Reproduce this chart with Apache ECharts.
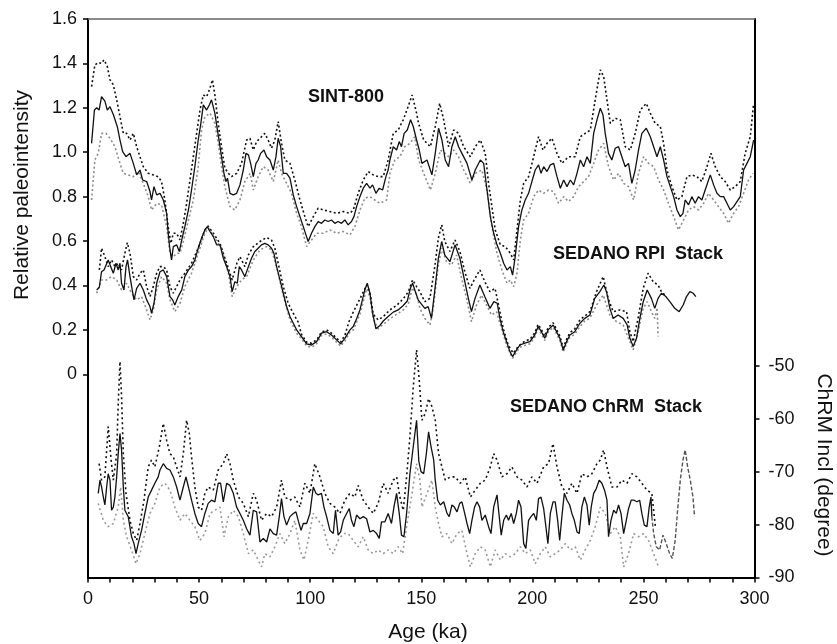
<!DOCTYPE html>
<html>
<head>
<meta charset="utf-8">
<title>SINT-800 / SEDANO stacks</title>
<script src="https://cdn.jsdelivr.net/npm/echarts@6.0.0/dist/echarts.min.js"></script>
<style>
html,body{margin:0;padding:0;background:#fff;}
#chart{width:837px;height:644px;}
</style>
</head>
<body>
<div id="chart"></div>
<script>
// age (ka), relative paleointensity
var sintMean = [[1.6,1.04],[2.9,1.19],[3.9,1.2],[5,1.19],[6.1,1.25],[7.6,1.23],[8.7,1.19],[9.9,1.205],[11.4,1.17],[13.2,1.115],[14.4,1.055],[15.6,1.003],[17.1,0.98],[18.9,0.995],[20.4,0.95],[21.9,0.898],[23.4,0.92],[24.6,0.875],[26.4,0.868],[27.9,0.823],[28.6,0.785],[29.7,0.845],[30.9,0.808],[32.4,0.815],[33.9,0.785],[35.4,0.725],[36.1,0.635],[36.9,0.56],[37.6,0.515],[38.4,0.575],[39.9,0.583],[41.1,0.553],[42.2,0.605],[43.6,0.665],[45.2,0.74],[46.6,0.83],[48.1,0.935],[49.6,1.055],[50.8,1.13],[51.9,1.213],[53.4,1.19],[54.6,1.213],[55.6,1.236],[57.1,1.176],[58.6,1.078],[60.1,0.98],[61.2,0.905],[62.1,0.868],[62.8,0.883],[63.9,0.815],[65.4,0.808],[66.9,0.815],[68.4,0.853],[69.9,0.92],[71.1,0.995],[72.2,0.988],[73.2,0.95],[74.4,0.89],[75.6,0.95],[76.6,0.965],[77.7,0.995],[79.2,1.01],[80.4,0.98],[81.9,0.965],[83.4,0.92],[84.6,0.98],[85.6,1.063],[86.7,1.025],[87.9,0.905],[89.4,0.905],[90.9,0.883],[92.4,0.808],[93.9,0.755],[95.4,0.71],[96.9,0.665],[98.1,0.628],[99.1,0.598],[100.6,0.635],[102.1,0.665],[103.6,0.688],[105.1,0.68],[106.6,0.695],[108.1,0.688],[109.6,0.695],[111.1,0.68],[112.6,0.688],[114.1,0.68],[115.6,0.695],[117.1,0.673],[118.6,0.688],[119.7,0.71],[120.9,0.755],[122.4,0.8],[123.9,0.838],[125.4,0.86],[126.9,0.838],[128.1,0.853],[129.6,0.815],[131.1,0.838],[132.6,0.83],[134.1,0.89],[135.1,0.92],[135.9,0.965],[137.4,1.025],[138.9,1.01],[140.1,1.048],[141.1,1.025],[142.3,1.085],[143.7,1.1],[145.2,1.146],[146.4,1.116],[147.9,1.055],[149.1,1.01],[150.3,0.95],[152.6,0.965],[154.8,0.898],[156.3,0.995],[157.8,1.108],[159.3,1.055],[160.8,0.965],[162.3,0.935],[163.8,1.025],[165.3,1.07],[166.8,1.025],[168.3,0.995],[170.6,0.95],[172.8,0.875],[174.3,0.92],[176.6,0.965],[178.1,0.95],[179.6,0.83],[181.1,0.71],[182.6,0.635],[184.1,0.583],[185.6,0.545],[187.1,0.5],[188.6,0.47],[190.1,0.485],[191.1,0.447],[192.3,0.53],[193.8,0.665],[195.3,0.74],[196.8,0.785],[198.3,0.815],[199.8,0.868],[201.3,0.92],[202.8,0.943],[203.9,0.905],[205.1,0.935],[206.6,0.913],[208.1,0.943],[209.6,0.95],[211.1,0.89],[212.6,0.838],[214.1,0.875],[215.6,0.845],[217.1,0.875],[218.6,0.853],[220.1,0.905],[221.6,0.965],[223.1,0.935],[224.6,0.98],[226.1,0.95],[227.6,1.085],[229.1,1.146],[230.6,1.198],[231.8,1.168],[232.8,1.085],[234.3,0.995],[235.8,0.965],[237.3,1.018],[238.8,1.025],[240.3,0.98],[241.8,0.935],[243.3,0.95],[244.8,0.86],[246.3,0.92],[247.8,1.01],[249.3,1.085],[251.3,1.108],[253.1,1.07],[254.6,1.025],[256.1,0.98],[257.6,1.025],[259.1,0.965],[260.6,0.89],[262.1,0.845],[263.6,0.8],[265.1,0.74],[266.6,0.71],[267.8,0.725],[268.8,0.785],[270.3,0.763],[271.8,0.8],[273.3,0.77],[274.8,0.8],[276.3,0.785],[277.8,0.83],[280.1,0.898],[281.6,0.853],[283.1,0.815],[284.6,0.8],[286.1,0.8],[287.6,0.77],[289.1,0.74],[290.6,0.755],[292.1,0.778],[293.6,0.8],[295.1,0.92],[296.6,0.95],[298.1,0.98],[299.6,1.055]];

var sintUpper = [[1.6,1.296],[3.1,1.393],[4.6,1.404],[6.1,1.4],[7.2,1.416],[8.7,1.386],[9.9,1.326],[11.4,1.303],[12.9,1.236],[14.4,1.16],[15.9,1.085],[17.4,1.085],[18.9,1.055],[20.4,1.085],[21.9,1.025],[23.4,0.98],[24.9,0.935],[27.1,0.905],[29.4,0.898],[31.6,0.89],[33.1,0.868],[34.6,0.785],[36.1,0.665],[37.3,0.59],[38.4,0.635],[39.9,0.635],[41.4,0.605],[42.9,0.68],[44.4,0.77],[45.9,0.875],[47.4,0.98],[48.9,1.085],[50.4,1.19],[51.9,1.258],[53.4,1.25],[54.9,1.288],[56,1.326],[57.1,1.258],[58.6,1.13],[60.1,1.025],[61.6,0.928],[63.2,0.905],[64.6,0.89],[66.9,0.905],[69.1,0.95],[71.4,1.055],[72.9,1.063],[74.4,1.01],[75.9,1.048],[78.1,1.07],[79.6,1.085],[81.1,1.055],[82.6,1.018],[84.1,1.055],[85.6,1.138],[87.1,1.04],[88.6,0.965],[90.9,0.95],[93.1,0.875],[95.4,0.785],[97.6,0.71],[99.1,0.665],[101.4,0.71],[103.6,0.748],[105.9,0.74],[108.9,0.733],[111.9,0.725],[114.9,0.733],[117.9,0.725],[119.4,0.74],[121.6,0.815],[123.9,0.875],[126.1,0.913],[128.4,0.898],[130.6,0.89],[132.9,0.89],[135.1,0.965],[137.4,1.085],[139.6,1.1],[141.9,1.146],[144.1,1.206],[145.9,1.258],[147.9,1.176],[148.8,1.13],[151.1,1.055],[154.1,1.025],[156.3,1.116],[158.3,1.22],[160.1,1.146],[162.3,1.025],[164.6,1.1],[166.8,1.085],[169.1,1.025],[172.1,0.98],[174.3,1.025],[176.6,1.055],[178.8,0.995],[180.3,0.86],[181.8,0.755],[183.3,0.65],[185.6,0.583],[187.8,0.575],[190.1,0.545],[191.6,0.515],[193.1,0.65],[194.6,0.785],[196.1,0.86],[198.3,0.89],[200.6,0.98],[202.8,1.07],[204.8,1.01],[206.6,1.04],[208.8,1.063],[211.1,0.995],[213.3,0.95],[216.3,0.98],[219.3,0.98],[221.6,1.07],[223.8,1.085],[226.1,1.1],[228.3,1.236],[230.6,1.371],[232.1,1.341],[233.6,1.236],[235.1,1.13],[237.3,1.153],[239.6,1.146],[241.8,1.025],[244.1,1.01],[246.3,1.085],[248.6,1.19],[251.3,1.22],[253.1,1.176],[255.3,1.13],[257.6,1.116],[259.1,1.04],[260.6,0.92],[262.8,0.845],[265.1,0.785],[267.3,0.8],[269.6,0.89],[271.8,0.898],[274.1,0.89],[276.3,0.868],[278.6,0.935],[280.4,0.995],[282.3,0.935],[284.6,0.89],[286.8,0.868],[289.1,0.83],[291.3,0.845],[293.6,0.868],[295.8,0.995],[298.1,1.07],[299.6,1.22]];

var sintLower = [[1.6,0.785],[3.1,0.965],[4.6,0.995],[6.1,1.085],[8.1,1.085],[9.9,1.063],[12.1,1.025],[14.4,0.95],[15.9,0.905],[18.1,0.898],[20.4,0.89],[22.6,0.913],[24.9,0.86],[27.1,0.8],[28.6,0.74],[30.9,0.77],[33.1,0.763],[35.4,0.665],[36.9,0.545],[38.4,0.53],[39.9,0.545],[41.4,0.545],[42.9,0.598],[45.2,0.695],[47.4,0.785],[49.6,0.935],[51.1,1.1],[52.6,1.16],[54.9,1.176],[57.1,1.13],[58.6,1.04],[60.1,0.935],[61.6,0.845],[63.9,0.755],[66.1,0.74],[68.4,0.785],[70.6,0.868],[73,0.905],[74.4,0.83],[76.6,0.89],[78.9,0.935],[81.1,0.92],[83.4,0.868],[85.6,0.965],[87.1,0.905],[89.4,0.86],[91.6,0.815],[93.9,0.725],[96.1,0.665],[98.4,0.575],[100.6,0.605],[102.9,0.635],[105.9,0.635],[108.9,0.65],[111.9,0.635],[114.9,0.643],[117.9,0.628],[120.1,0.665],[122.4,0.74],[124.6,0.793],[126.9,0.8],[129.1,0.785],[131.4,0.77],[134.4,0.785],[135.9,0.905],[138.1,0.965],[140.4,0.98],[142.6,1.025],[144.9,1.04],[147.1,1.07],[148.8,0.965],[151.1,0.905],[154.1,0.83],[156.3,0.905],[158.6,1.01],[160.8,0.995],[162.3,0.98],[164.6,1.01],[166.8,0.98],[169.1,0.92],[172.1,0.86],[174.3,0.905],[177.3,0.92],[179.6,0.83],[181.8,0.665],[184.1,0.545],[186.3,0.47],[188.6,0.41],[190.1,0.425],[191.6,0.395],[193.1,0.455],[194.6,0.605],[196.1,0.695],[198.3,0.725],[200.6,0.8],[202.8,0.83],[205.1,0.815],[207.3,0.83],[209.6,0.823],[211.8,0.77],[214.1,0.8],[216.3,0.778],[218.6,0.8],[220.8,0.845],[223.1,0.868],[225.3,0.89],[227.6,0.95],[229.8,1.01],[232.1,1.04],[234.3,0.935],[236.6,0.875],[238.8,0.905],[241.1,0.86],[243.3,0.845],[245.6,0.785],[247.8,0.905],[250.1,0.98],[252.3,0.95],[254.6,0.935],[256.8,0.875],[259.1,0.83],[261.3,0.77],[263.6,0.71],[265.8,0.65],[268.1,0.695],[270.3,0.74],[272.6,0.755],[274.8,0.74],[277.1,0.77],[279.3,0.815],[281.6,0.785],[283.8,0.755],[286.1,0.725],[288.3,0.68],[290.6,0.725],[292.8,0.755],[295.1,0.815],[297.3,0.875],[299.3,0.905]];

var rpiMean = [[3.9,0.38],[5.1,0.392],[6.1,0.462],[7.2,0.47],[8.1,0.462],[9.1,0.515],[10.2,0.485],[11.4,0.455],[12.6,0.5],[13.6,0.47],[14.4,0.5],[15.1,0.41],[16.2,0.38],[17.1,0.485],[17.8,0.515],[18.9,0.44],[19.9,0.38],[20.7,0.335],[21.9,0.387],[23.4,0.41],[24.9,0.38],[26.4,0.335],[27.9,0.305],[28.6,0.275],[29.7,0.32],[30.9,0.41],[32.4,0.462],[33.9,0.47],[35.4,0.44],[36.9,0.35],[38.1,0.335],[39.1,0.312],[40.6,0.35],[42.2,0.38],[43.6,0.44],[45.2,0.47],[46.6,0.485],[48.1,0.515],[49.6,0.568],[51.1,0.613],[52.6,0.65],[53.7,0.665],[54.9,0.643],[56.4,0.62],[57.9,0.583],[59.4,0.583],[60.9,0.523],[62.4,0.485],[63.9,0.44],[64.9,0.372],[66.1,0.417],[67.2,0.41],[68.1,0.485],[69.1,0.47],[70.6,0.44],[72.2,0.485],[73.6,0.523],[75.1,0.553],[76.6,0.568],[78.1,0.583],[79.6,0.59],[81.1,0.583],[82.6,0.568],[83.7,0.545],[84.9,0.485],[86.4,0.425],[87.9,0.365],[89.4,0.305],[90.9,0.26],[92.4,0.23],[93.9,0.2],[96.1,0.17],[98.4,0.137],[100.6,0.132],[102.9,0.147],[105.1,0.185],[107.4,0.192],[109.6,0.177],[111.9,0.155],[113.7,0.137],[115.6,0.162],[117.9,0.2],[119.4,0.215],[120.9,0.25],[122.4,0.29],[124.6,0.38],[125.7,0.41],[126.9,0.365],[128.1,0.275],[129.6,0.205],[131.4,0.22],[132.9,0.24],[135.1,0.26],[137.4,0.28],[139.6,0.29],[141.9,0.31],[143.7,0.33],[145.2,0.39],[146.1,0.41],[147.1,0.38],[148.6,0.335],[149.4,0.327],[151.6,0.297],[153.1,0.305],[154.6,0.252],[156.2,0.387],[157.7,0.522],[159.2,0.598],[160.6,0.537],[162.9,0.507],[165.2,0.583],[167.4,0.522],[169.6,0.417],[171.2,0.342],[172.6,0.282],[174.2,0.342],[176.4,0.402],[178.6,0.35],[180.9,0.297],[182.7,0.327],[184.2,0.32],[185.4,0.252],[186.9,0.192],[188.4,0.147],[189.9,0.102],[191.1,0.08],[192.9,0.11],[194.4,0.132],[196.6,0.14],[198.9,0.147],[201.1,0.177],[202.6,0.215],[204.1,0.192],[205.6,0.162],[207.1,0.2],[209.4,0.222],[210.9,0.192],[212.4,0.162],[213.9,0.11],[215.4,0.147],[216.9,0.177],[219.1,0.192],[221.4,0.23],[223.6,0.252],[225.9,0.267],[228.1,0.342],[230.4,0.372],[232.2,0.402],[233.4,0.372],[234.9,0.297],[236.4,0.252],[238.6,0.267],[240.9,0.252],[242.7,0.222],[243.9,0.162],[245.4,0.125],[246.9,0.162],[248.4,0.252],[249.9,0.327],[251.7,0.38],[253.6,0.342],[255.1,0.297],[256.6,0.342],[258.1,0.365],[260.1,0.35],[261.9,0.327],[264.1,0.297],[266.1,0.282],[267.9,0.312],[269.4,0.35],[270.9,0.372],[272.4,0.365],[273.6,0.35]];

var rpiUpper = [[5.1,0.47],[6.1,0.568],[7.6,0.53],[9.1,0.485],[10.6,0.515],[12.1,0.485],[13.6,0.5],[15.1,0.47],[16.6,0.545],[17.7,0.593],[18.9,0.545],[20.4,0.44],[21.9,0.425],[23.4,0.455],[24.9,0.47],[26.4,0.395],[27.9,0.35],[29.4,0.395],[30.9,0.455],[32.4,0.485],[33.9,0.485],[35.4,0.47],[36.9,0.395],[38.4,0.365],[39.9,0.395],[41.4,0.425],[43.6,0.455],[46.6,0.5],[49.6,0.568],[52.6,0.65],[54.1,0.668],[56.4,0.635],[59.4,0.59],[62.4,0.5],[64.9,0.425],[67,0.5],[68.4,0.53],[70.6,0.485],[72.2,0.538],[74.4,0.575],[77.4,0.598],[80.4,0.616],[82.6,0.605],[84.1,0.568],[85.6,0.5],[87.9,0.395],[90.1,0.32],[92.4,0.275],[94.6,0.235],[96.1,0.18],[98.4,0.145],[100.6,0.14],[102.9,0.155],[105.1,0.19],[107.4,0.2],[109.6,0.185],[111.9,0.163],[113.7,0.145],[115.6,0.175],[117.4,0.235],[119.4,0.28],[122.4,0.34],[125.4,0.402],[126.9,0.37],[128.4,0.27],[130.6,0.245],[132.9,0.26],[135.9,0.29],[138.9,0.31],[141.9,0.34],[144.1,0.37],[146.1,0.425],[147.9,0.395],[149.4,0.372],[151.6,0.327],[153.9,0.342],[156.2,0.492],[157.7,0.613],[159.2,0.673],[160.6,0.598],[162.9,0.553],[165.2,0.605],[167.4,0.553],[169.6,0.462],[171.9,0.387],[174.2,0.432],[176.4,0.47],[178.6,0.417],[180.9,0.372],[183.2,0.387],[185.1,0.297],[186.9,0.207],[189.1,0.132],[191.4,0.095],[193.6,0.125],[196.6,0.15],[198.9,0.157],[201.1,0.187],[202.6,0.225],[204.1,0.202],[205.6,0.172],[207.1,0.21],[209.4,0.232],[210.9,0.202],[212.4,0.172],[213.9,0.12],[215.4,0.157],[216.9,0.187],[219.1,0.205],[221.4,0.245],[223.6,0.262],[225.9,0.282],[228.9,0.372],[231.9,0.44],[234.1,0.342],[236.4,0.282],[239.4,0.29],[242.4,0.282],[243.9,0.192],[245.4,0.147],[247.6,0.252],[249.9,0.387],[252.1,0.455],[254.4,0.417],[256.6,0.402],[258.1,0.372],[260.4,0.35]];

var rpiLower = [[3.9,0.365],[6.1,0.425],[8.4,0.425],[10.6,0.44],[12.9,0.425],[15.1,0.38],[17.4,0.41],[19.6,0.365],[21.9,0.335],[24.1,0.35],[26.4,0.29],[27.9,0.245],[29.4,0.29],[30.9,0.38],[33.1,0.44],[35.4,0.41],[36.9,0.335],[39.1,0.282],[41.4,0.32],[43.6,0.395],[46.6,0.455],[49.6,0.545],[52.6,0.635],[54.1,0.658],[57.1,0.613],[60.1,0.568],[63.2,0.455],[64.9,0.35],[67,0.395],[69.1,0.425],[71.4,0.44],[74.4,0.515],[77.4,0.56],[80.4,0.575],[82.6,0.56],[84.9,0.485],[87.9,0.355],[90.9,0.245],[93.9,0.185],[96.1,0.16],[98.4,0.127],[100.6,0.122],[102.9,0.137],[105.1,0.175],[107.4,0.182],[109.6,0.167],[111.9,0.145],[113.7,0.127],[115.6,0.15],[117.9,0.19],[119.4,0.2],[122.4,0.27],[125.4,0.385],[126.9,0.35],[128.4,0.25],[130.6,0.205],[132.9,0.225],[135.9,0.25],[138.9,0.27],[141.9,0.29],[144.1,0.315],[146.1,0.39],[147.9,0.36],[149.4,0.297],[151.6,0.252],[153.9,0.222],[155.4,0.297],[157.7,0.492],[159.2,0.568],[161.4,0.507],[163.6,0.492],[165.9,0.537],[168.2,0.432],[170.4,0.342],[172.6,0.237],[174.9,0.312],[177.1,0.357],[179.4,0.312],[181.6,0.267],[183.9,0.282],[186.1,0.207],[188.4,0.132],[191.1,0.072],[192.9,0.1],[194.4,0.122],[196.6,0.13],[198.9,0.137],[201.1,0.167],[202.6,0.205],[204.1,0.182],[205.6,0.152],[207.1,0.19],[209.4,0.212],[210.9,0.182],[212.4,0.152],[213.9,0.1],[215.4,0.137],[216.9,0.167],[219.1,0.18],[221.4,0.215],[223.6,0.24],[225.9,0.252],[228.9,0.312],[231.9,0.357],[234.9,0.267],[237.9,0.237],[240.9,0.222],[243.9,0.147],[245.4,0.11],[247.6,0.192],[249.9,0.297],[251.7,0.327],[253.6,0.282],[255.1,0.252],[256.2,0.3],[256.6,0.17]];

// age (ka), ChRM inclination (degree)
var chrmMean = [[4.6,-74.1],[5.4,-71.6],[6.1,-72.9],[6.9,-74.8],[7.6,-76.3],[8.4,-72.9],[9.1,-70.4],[9.9,-71.6],[10.6,-77.3],[11.4,-76.7],[12.1,-74.8],[12.9,-71],[13.6,-66.6],[14.4,-62.8],[15.1,-65.9],[15.9,-72.9],[16.6,-77.3],[18.1,-78.5],[19.6,-82.3],[20.7,-83.6],[21.6,-85.5],[22.6,-83.6],[24.1,-81.1],[25.6,-77.9],[27.1,-74.8],[28.6,-73.5],[30.1,-72.2],[31.6,-71],[32.4,-69.7],[33.9,-68.5],[35.4,-69.4],[36.9,-69.7],[38.4,-71],[39.9,-72.9],[41.4,-75.4],[42.9,-72.9],[44.1,-71],[45.2,-72.9],[46.6,-75.4],[48.1,-77.9],[49.6,-79.8],[51.1,-80.4],[52.6,-77.9],[54.1,-76],[55.6,-75.4],[57.1,-75.7],[58.6,-72.2],[59.7,-72.2],[60.9,-75.7],[62.4,-72.2],[63.9,-72.6],[65.4,-74.1],[66.9,-76.7],[68.4,-77.9],[69.9,-79.2],[71.4,-80.8],[72.9,-82],[74.4,-77.3],[75.9,-77.6],[77.4,-83.3],[78.9,-82.6],[80.4,-83.3],[81.9,-80.8],[83.4,-81.7],[84.9,-82],[86.1,-78.5],[87.1,-75.1],[88.2,-78.5],[89.4,-80.1],[90.9,-78.5],[92.4,-77.9],[93.6,-77.6],[94.6,-79.2],[95.9,-81.1],[96.9,-79.8],[98.4,-79.8],[99.9,-77.9],[101.4,-72.9],[102.6,-74.1],[103.6,-74.4],[105.1,-74.1],[106.2,-76.7],[107.4,-78.5],[108.9,-81.1],[110.4,-81.7],[111.4,-77.3],[112.6,-82],[113.7,-81.4],[114.9,-79.2],[116.4,-77.9],[117.6,-77],[118.6,-79.2],[119.7,-80.4],[120.9,-78.2],[122.4,-78.9],[123.9,-78.5],[125.4,-78.9],[126.9,-81.4],[128.4,-81.1],[129.9,-81.7],[131.1,-82.6],[132.1,-79.5],[133.6,-79.5],[135.1,-77.9],[136.6,-79.8],[137.7,-76.7],[138.9,-74.1],[140.1,-77.9],[141.1,-82],[142.2,-82.3],[143.4,-77.9],[144.9,-70.4],[146.4,-65.3],[147.9,-60.3],[148.9,-68],[149.9,-70],[151.1,-70.4],[152.3,-66.6],[153.3,-62.5],[154.4,-65.3],[155.6,-67.8],[156.3,-71.6],[157.4,-75.4],[158.6,-76.3],[160.1,-75.7],[161.6,-77.9],[162.6,-78.5],[163.8,-76.3],[164.9,-76.7],[166.1,-77.6],[167.3,-76],[168.3,-75.7],[169.4,-77.6],[170.6,-79.8],[171.8,-81.7],[172.8,-79.2],[174,-76.7],[175.1,-75.7],[176.3,-76.7],[177.3,-79.2],[178.8,-78.2],[180.3,-80.4],[181.4,-81.7],[182.6,-76.7],[184.1,-74.4],[185.1,-78.5],[186,-82],[187.1,-79.2],[188.3,-78.2],[189.3,-79.2],[190.5,-77.9],[191.6,-79.8],[192.8,-77.9],[193.8,-75.4],[194.9,-76.7],[196.1,-83.6],[197.1,-84.5],[198.3,-79.2],[199.4,-78.5],[200.6,-77.9],[201.8,-79.2],[202.8,-75.1],[203.9,-74.8],[205.1,-77],[206.1,-80.4],[207,-83.6],[208.1,-77.9],[209.3,-75.7],[210.3,-75.7],[211.4,-79.2],[212.3,-83],[213.3,-78.5],[214.4,-74.1],[215.6,-75.4],[216.8,-76.3],[217.8,-77.9],[218.9,-79.2],[220.1,-81.4],[221.1,-81.7],[222.3,-76.7],[223.4,-74.8],[224.6,-76.3],[225.6,-80.1],[226.5,-76.7],[227.6,-74.1],[228.8,-73.2],[230.1,-71.6],[231.3,-72.2],[232.5,-73.5],[233.6,-75.4],[234.3,-82.3],[235.4,-79.2],[236.6,-77.3],[237.8,-77.9],[238.8,-76.3],[239.9,-77.9],[241.1,-81.7],[242.3,-79.2],[243.3,-77],[244.5,-75.4],[245.8,-75.4],[247.1,-75.7],[248.3,-75.4],[249.3,-77.9],[250.4,-80.1],[251.6,-80.4],[252.6,-76.7],[253.4,-74.8],[253.8,-78.5]];

var chrmTail = [[253.8,-78.5],[254.6,-81.7],[255.8,-84.2],[257.3,-84.8],[258.8,-82],[260.3,-83.6],[261.8,-85.5],[263,-86.4],[264.3,-83],[265.5,-76.7],[266.6,-71.6],[267.8,-67.8],[268.8,-65.9],[269.9,-69.1],[271.1,-71.6],[272.3,-74.8],[273,-78.5]];

var chrmUpper = [[5,-68.5],[6.1,-71.6],[7.6,-71],[9.1,-61.5],[10.4,-67.8],[11.4,-71.6],[12.9,-66.6],[13.6,-57.1],[14.4,-49.2],[15.1,-55.8],[15.9,-66.6],[17.1,-74.1],[18.9,-79.2],[20.4,-81.7],[21.9,-83],[23.4,-79.8],[25.2,-75.4],[27.1,-69.1],[28.6,-67.8],[30.1,-69.1],[32.1,-65.3],[33.9,-60.9],[35.4,-64.1],[36.9,-66.6],[38.4,-67.2],[39.9,-69.1],[41.4,-71],[42.9,-66.6],[44.4,-60.3],[45.6,-62.8],[46.6,-67.2],[48.1,-72.9],[49.6,-76.7],[51.1,-77.3],[52.6,-74.1],[54.1,-72.9],[56.4,-73.5],[58.6,-69.7],[60.9,-68.5],[62.4,-66.6],[63.9,-68.5],[65.4,-71.6],[67.7,-74.8],[69.9,-76],[72.2,-78.5],[74.4,-74.1],[75.9,-75.4],[78.1,-79.2],[80.4,-77.9],[82.6,-78.5],[84.9,-76.7],[87.1,-71.6],[88.6,-74.8],[90.9,-75.4],[93.1,-74.8],[95.4,-76.7],[97.6,-72.2],[99.9,-74.1],[102.1,-68.5],[104.4,-71],[106.6,-74.1],[108.9,-76],[111.1,-76.7],[113.4,-77.9],[115.6,-75.4],[117.9,-74.1],[120.1,-74.8],[121.6,-72.6],[123.9,-75.4],[126.1,-76.7],[128.4,-77.9],[130.6,-76],[132.9,-72.2],[135.1,-74.1],[137.4,-71.6],[138.9,-71],[140.4,-74.8],[141.9,-77.3],[143.4,-71],[144.9,-63.4],[146.4,-54],[147.9,-47],[149.1,-52.7],[150.3,-60.3],[151.8,-59],[153.3,-56.2],[154.8,-57.7],[156.3,-60.3],[157.8,-66.6],[159.3,-69.1],[160.8,-71.6],[163.1,-71],[165.3,-71],[167.6,-72.2],[169.8,-71],[172.1,-74.8],[174.3,-73.5],[176.6,-72.2],[178.8,-71.6],[181.1,-69.1],[182.6,-66.6],[184.1,-67.8],[186.3,-71],[188.6,-70.4],[190.8,-69.1],[193.1,-71],[195.3,-71.6],[197.6,-72.9],[199.8,-71],[202.1,-72.2],[205.1,-69.1],[207.3,-68.5],[209.3,-64.7],[211.1,-69.1],[213.3,-72.9],[215.6,-74.1],[217.8,-72.2],[220.1,-74.1],[222.3,-70.4],[224.6,-71],[226.8,-70.4],[229.1,-68.5],[230.6,-67.8],[232.1,-65.9],[233.6,-69.1],[235.8,-72.9],[238.1,-72.9],[240.3,-71.6],[242.6,-72.2],[244.8,-70.4],[247.1,-71],[249.3,-72.2],[251.6,-73.5],[253.8,-74.1],[255.4,-80.5]];

var chrmLower = [[4.6,-76],[6.9,-79.2],[9.1,-80.4],[11.4,-79.8],[13.6,-76.7],[14.7,-72.9],[15.9,-79.2],[17.4,-82.3],[19.6,-84.8],[21.6,-87.4],[23.4,-85.5],[25.6,-81.7],[27.9,-77.9],[30.1,-76],[32.4,-72.9],[34.6,-72.2],[36.9,-73.5],[39.1,-76.7],[41.4,-79.2],[43.6,-77.9],[45.9,-79.2],[48.1,-80.4],[50.4,-83],[52.6,-81.7],[54.9,-77.9],[57.1,-77.3],[59.4,-76.7],[61.2,-82.3],[63.2,-78.5],[65.4,-77.3],[67.7,-78.5],[69.9,-81.7],[72.2,-85.5],[74.4,-84.8],[76.6,-86.7],[78.1,-88],[79.6,-85.5],[81.9,-86.1],[84.1,-84.2],[86.4,-81.7],[88.6,-83.6],[90.9,-81.7],[93.1,-79.2],[95.4,-84.8],[97.2,-86.7],[99.1,-83],[101.4,-77.9],[103.6,-79.2],[105.9,-80.4],[108.1,-84.2],[110.4,-85.5],[112.6,-83],[114.9,-81.7],[117.1,-81.7],[119.4,-83],[121.6,-84.2],[123.9,-82.3],[126.1,-84.8],[128.4,-85.5],[130.6,-84.8],[132.9,-85.5],[135.1,-84.8],[137.4,-85.5],[139.6,-84.2],[141.6,-85.5],[143.4,-80.4],[145.6,-74.8],[147.9,-68.5],[149.4,-71.6],[150.3,-76.7],[152.6,-74.1],[154.8,-71.6],[156.3,-76.7],[157.8,-79.8],[159.3,-82.3],[161.6,-81.7],[163.8,-83.6],[166.1,-81.7],[168.3,-81.1],[170.6,-85.5],[172.1,-88],[174.3,-85.5],[176.6,-84.2],[178.8,-84.8],[181.1,-88],[183.3,-84.8],[185.6,-86.7],[187.8,-85.5],[190.1,-86.1],[192.3,-85.5],[194.6,-84.2],[196.8,-85.5],[199.1,-84.8],[201.3,-87.4],[203.6,-85.5],[205.8,-84.2],[208.1,-86.1],[210.3,-85.5],[212.6,-84.8],[214.8,-83.6],[217.1,-84.8],[219.3,-84.2],[221.6,-86.7],[223.8,-84.8],[226.1,-83],[228.3,-80.4],[230.6,-76.7],[232.8,-77.9],[235.1,-81.7],[237.3,-80.4],[239.6,-82.3],[241.1,-88],[243.3,-85.5],[245.6,-81.7],[247.8,-82.3],[250.1,-81.7],[252.3,-83],[254.6,-85.5],[256.8,-88]];

// tick marks and labels
var ageTicks = [0,10,20,30,40,50,60,70,80,90,100,110,120,130,140,150,160,170,180,190,200,210,220,230,240,250,260,270,280,290,300];
var ageLabels = [0,50,100,150,200,250,300];
var rpiTicks = [0,0.2,0.4,0.6,0.8,1.0,1.2,1.4,1.6];
var inclTicks = [-90,-80,-70,-60,-50];

var FONT = '"Liberation Sans", Arial, Helvetica, sans-serif';

function curve(name, data, yAxisIndex, color, width, dash) {
	return {
		name: name,
		type: 'line',
		yAxisIndex: yAxisIndex,
		data: data,
		showSymbol: false,
		symbol: 'none',
		silent: true,
		lineStyle: {color: color, width: width, type: dash || 'solid'},
		z: dash ? 2 : 3
	};
}

var myChart = echarts.init(document.getElementById('chart'));
var option = {
	animation: false,
	backgroundColor: '#fff',
	grid: {left: 88, right: 82.5, top: 19, bottom: 66.5, containLabel: false},
	xAxis: [{
		type: 'value', min: 0, max: 300, position: 'bottom',
		axisLine: {show: true, onZero: false, lineStyle: {color: '#000', width: 2}},
		axisTick: {show: true, length: 5, customValues: ageTicks, lineStyle: {color: '#000', width: 1.5}},
		axisLabel: {customValues: ageLabels, margin: 13, color: '#111', fontSize: 18, fontFamily: FONT},
		splitLine: {show: false}
	}, {
		type: 'value', min: 0, max: 300, position: 'top',
		axisLine: {show: true, onZero: false, lineStyle: {color: '#666', width: 1.5}},
		axisTick: {show: false}, axisLabel: {show: false}, splitLine: {show: false}
	}],
	yAxis: [{
		type: 'value', min: -0.915, max: 1.6, position: 'left',
		axisLine: {show: true, onZero: false, lineStyle: {color: '#000', width: 2}},
		axisTick: {show: true, length: 5, customValues: rpiTicks, lineStyle: {color: '#000', width: 1.5}},
		axisLabel: {customValues: rpiTicks, margin: 11, color: '#111', fontSize: 18, fontFamily: FONT,
			formatter: function (v) { return v === 0 ? '0' : v.toFixed(1); }},
		splitLine: {show: false}
	}, {
		type: 'value', min: -90, max: 15.5, position: 'right',
		axisLine: {show: true, onZero: false, lineStyle: {color: '#000', width: 2}},
		axisTick: {show: true, length: 5, customValues: inclTicks, lineStyle: {color: '#000', width: 1.5}},
		axisLabel: {customValues: inclTicks, margin: 14, color: '#111', fontSize: 18, fontFamily: FONT},
		splitLine: {show: false}
	}],
	graphic: [
		{type: 'text', x: 22, y: 195, rotation: Math.PI / 2,
			style: {text: 'Relative paleointensity', font: '21px ' + FONT, fill: '#111', align: 'center', verticalAlign: 'middle'}},
		{type: 'text', x: 824, y: 465, rotation: -Math.PI / 2,
			style: {text: 'ChRM Incl (degree)', font: '21px ' + FONT, fill: '#111', align: 'center', verticalAlign: 'middle'}},
		{type: 'text', x: 428, y: 632,
			style: {text: 'Age (ka)', font: '21px ' + FONT, fill: '#111', align: 'center', verticalAlign: 'middle'}},
		{type: 'text', x: 308, y: 97,
			style: {text: 'SINT-800', font: 'bold 18px ' + FONT, fill: '#111', align: 'left', verticalAlign: 'middle'}},
		{type: 'text', x: 553, y: 254,
			style: {text: 'SEDANO RPI  Stack', font: 'bold 18px ' + FONT, fill: '#111', align: 'left', verticalAlign: 'middle'}},
		{type: 'text', x: 510, y: 407,
			style: {text: 'SEDANO ChRM  Stack', font: 'bold 18px ' + FONT, fill: '#111', align: 'left', verticalAlign: 'middle'}}
	],
	series: [
		curve('SINT-800 lower', sintLower, 0, '#8c8c8c', 1.6, [2, 2.5]),
		curve('SINT-800 upper', sintUpper, 0, '#111', 1.6, [2, 2.5]),
		curve('SINT-800', sintMean, 0, '#111', 1.3),
		curve('RPI lower', rpiLower, 0, '#8c8c8c', 1.6, [2, 2.5]),
		curve('RPI upper', rpiUpper, 0, '#111', 1.6, [2, 2.5]),
		curve('RPI stack', rpiMean, 0, '#111', 1.3),
		curve('ChRM lower', chrmLower, 1, '#9a9a9a', 1.6, [2, 3]),
		curve('ChRM upper', chrmUpper, 1, '#111', 1.6, [2, 3]),
		curve('ChRM stack', chrmMean, 1, '#111', 1.3),
		curve('ChRM tail', chrmTail, 1, '#555', 1.4, [4, 2])
	]
};
myChart.setOption(option);
</script>
</body>
</html>
